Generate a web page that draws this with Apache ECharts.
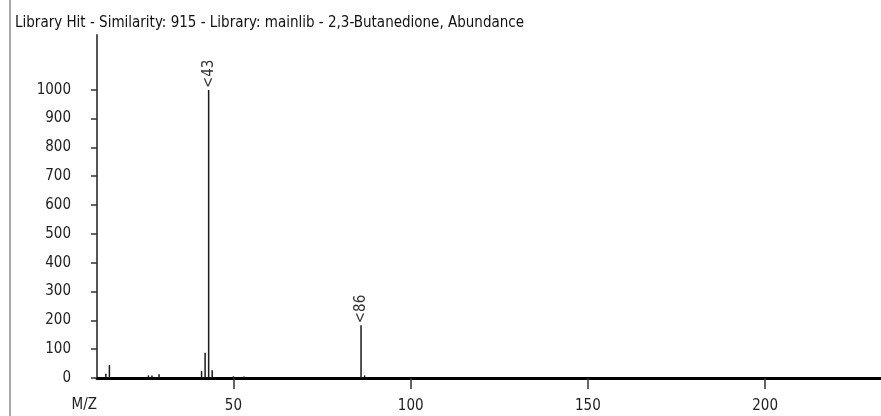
<!DOCTYPE html>
<html>
<head>
<meta charset="utf-8">
<script src="https://cdn.jsdelivr.net/npm/echarts@6/dist/echarts.min.js"></script>
<style>
html,body{margin:0;padding:0;background:#fff;}
#chart{width:881px;height:416px;}
</style>
</head>
<body>
<div id="chart"></div>
<script>
const titleText = 'Library Hit - Similarity: 915 - Library: mainlib - 2,3-Butanedione, Abundance';
const mzValues = [14, 15, 26, 27, 29, 41, 42, 43, 44, 50, 53, 86, 87];
const abundance = [15, 45, 9, 9, 13, 24, 88, 999, 27, 6, 5, 183, 9];
const labeledPeaks = [43, 86];
const yTicks = [0, 100, 200, 300, 400, 500, 600, 700, 800, 900, 1000];
const xTicks = [50, 100, 150, 200];

const FONT = '"DejaVu Sans Condensed", "DejaVu Sans", sans-serif';

const data = mzValues.map((m, i) => {
  const item = { value: [m, abundance[i]] };
  if (labeledPeaks.includes(m)) {
    item.label = {
      show: true, position: 'top', rotate: 90, align: 'left', verticalAlign: 'middle',
      distance: 2, formatter: '<' + m, fontFamily: FONT, fontSize: 15, color: '#333'
    };
  }
  return item;
});

const chart = echarts.init(document.getElementById('chart'));
chart.setOption({
  animation: false,
  backgroundColor: '#fff',
  title: {
    text: titleText, left: 10, top: 11,
    textStyle: { fontFamily: FONT, fontSize: 15, fontWeight: 'normal', color: '#111' }
  },
  graphic: [{
    type: 'line', shape: { x1: 10, y1: 0, x2: 10, y2: 416 },
    style: { stroke: '#8a8a8a', lineWidth: 1.5 }
  }],
  grid: { left: 97, right: 0, top: 35, bottom: 38, containLabel: false },
  xAxis: {
    type: 'value', min: 11.5, max: 232.7,
    name: 'M/Z', nameLocation: 'start', nameGap: 0,
    nameTextStyle: { fontFamily: FONT, fontSize: 15, color: '#222', align: 'right', verticalAlign: 'top', padding: [20, 0, 0, 0] },
    axisLine: { show: true, onZero: false, lineStyle: { color: '#000', width: 3 } },
    axisTick: { show: true, length: 11, customValues: xTicks, lineStyle: { color: '#333', width: 1.5 } },
    axisLabel: { customValues: xTicks, margin: 21, fontFamily: FONT, fontSize: 15, color: '#222', formatter: v => String(v) },
    splitLine: { show: false }
  },
  yAxis: {
    type: 'value', min: 0, max: 1190,
    axisLine: { show: true, lineStyle: { color: '#555', width: 2 } },
    axisTick: { show: true, length: 6, customValues: yTicks, lineStyle: { color: '#333', width: 1.5 } },
    axisLabel: { customValues: yTicks, margin: 26, fontFamily: FONT, fontSize: 15, color: '#222', formatter: v => String(v) },
    splitLine: { show: false }
  },
  series: [{
    type: 'bar', data: data, barWidth: 1.5,
    itemStyle: { color: '#1a1a1a' },
    label: { show: false }
  }]
});
</script>
</body>
</html>
